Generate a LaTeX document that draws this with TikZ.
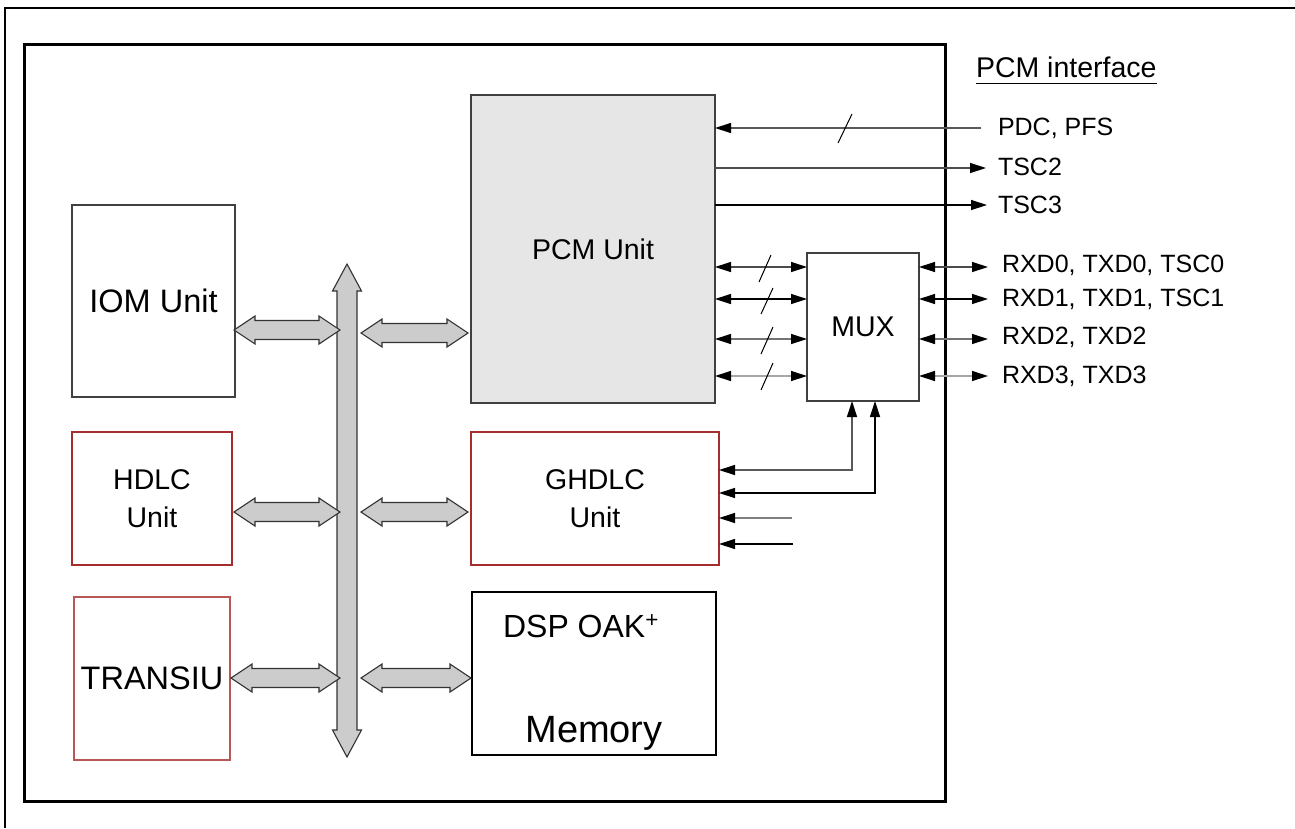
\documentclass[tikz,border=0pt]{standalone}
\usepackage{fontspec}
\setmainfont{Liberation Sans}
\usetikzlibrary{arrows.meta,calc}
\definecolor{boxred}{RGB}{165,45,45}
\definecolor{pcmfill}{RGB}{230,230,230}
\definecolor{busfill}{RGB}{204,204,204}
\newcommand\lblfont{\fontsize{25}{28}\selectfont}
\newcommand\boxfont{\fontsize{28.5}{38}\selectfont}
\newcommand\bigboxfont{\fontsize{32.5}{38}\selectfont}
\newcommand\harrow[3]{\draw[barrow] (#1,#3) -- ({#1+21},{#3-14}) -- ({#1+21},{#3-9.5}) -- ({#2-21},{#3-9.5}) -- ({#2-21},{#3-14}) -- (#2,#3) -- ({#2-21},{#3+14}) -- ({#2-21},{#3+9.5}) -- ({#1+21},{#3+9.5}) -- ({#1+21},{#3+14}) -- cycle;}
\begin{document}
\begin{tikzpicture}[x=1pt,y=-1pt,
  unitbox/.style={draw=#1,line width=1.2pt,inner sep=0pt,outer sep=0pt,align=center,font=\boxfont},
  unitbox/.default={black!75},
  lbl/.style={anchor=west,inner sep=0pt,outer sep=0pt,font=\lblfont,text height=0.72em,text depth=0pt},
  barrow/.style={draw=black!80,fill=busfill,line width=1.1pt,line join=miter},
  tip/.style={-{Triangle[length=16pt,width=10pt,color=black]}},
  tips/.style={{Triangle[length=16pt,width=10pt,color=black]}-{Triangle[length=16pt,width=10pt,color=black]}},
  sig/.style={line width=1.3pt},
  slash/.style={line width=1pt,black}]
\useasboundingbox (0,0) rectangle (1295,828);
% outer frame (top and left edges)
\draw[line width=1.5pt] (5,828) -- (5,8) -- (1295,8);
% inner frame
\draw[line width=3pt] (24,44) rectangle (945,801);

% boxes
\node[unitbox,fill=pcmfill,minimum width=244pt,minimum height=308pt] (pcm) at (593,249) {PCM Unit};
\node[unitbox,font=\bigboxfont,minimum width=163pt,minimum height=192pt] (iom) at (153.5,301) {IOM Unit};
\node[unitbox=boxred,minimum width=160pt,minimum height=133pt] (hdlc) at (152,498.5) {HDLC\\Unit};
\node[unitbox=boxred!80,font=\bigboxfont,minimum width=156pt,minimum height=163pt] (transiu) at (152,678.5) {TRANSIU};
\node[unitbox=boxred,minimum width=248pt,minimum height=133pt] (ghdlc) at (595,498.5) {GHDLC\\Unit};
\node[unitbox=black,line width=2.5pt,minimum width=244pt,minimum height=163pt] (dsp) at (594,673.5) {};
\node[font=\fontsize{32}{34}\selectfont,anchor=base,inner sep=0pt] (dsptext) at (581,637) {DSP OAK\textsuperscript{+}};
\node[font=\fontsize{38}{40}\selectfont,anchor=base,inner sep=0pt] (memtext) at (594,742) {Memory};
\node[unitbox,minimum width=112pt,minimum height=148pt] (mux) at (863,327) {MUX};

% bus
\draw[barrow] (347,264) -- (361.5,291) -- (357,291) -- (357,730) -- (361.5,730) -- (347,757)
  -- (332.5,730) -- (337,730) -- (337,291) -- (332.5,291) -- cycle;
\harrow{234}{340}{330}
\harrow{361}{468}{333}
\harrow{234}{340}{512}
\harrow{361}{468}{512}
\harrow{231}{340}{678}
\harrow{361}{471}{678}

% PCM interface labels
\node[lbl,font=\fontsize{28.5}{30}\selectfont] (pcmif) at (976,74) {PCM interface};
\draw[line width=1.6pt] ($(pcmif.base west)+(0,6)$) -- ($(pcmif.base east)+(0,6)$);
\node[lbl] (pdc) at (998,132) {PDC, PFS};
\node[lbl] (tsc2) at (998,172) {TSC2};
\node[lbl] (tsc3) at (998,210) {TSC3};
\node[lbl] (rx0) at (1002,269) {RXD0, TXD0, TSC0};
\node[lbl] (rx1) at (1002,303) {RXD1, TXD1, TSC1};
\node[lbl] (rx2) at (1002,341) {RXD2, TXD2};
\node[lbl] (rx3) at (1002,380) {RXD3, TXD3};

\draw[sig,tip,black!65] (981,128) coordinate (pdcend) -- (pcm.east |- pdcend);
\draw[slash] (838,143) -- (852,114);
\draw[sig,tip,black!70] (pcm.east |- 0,168) -- (986,168) coordinate (tsc2end);
\draw[sig,tip,black] (pcm.east |- 0,205) -- (987,205) coordinate (tsc3end);

% PCM <-> MUX
\draw[sig,tips,black!70] (pcm.east |- 0,267) -- (mux.west |- 0,267);
\draw[sig,tips,black] (pcm.east |- 0,299) -- (mux.west |- 0,299);
\draw[sig,tips,black!55] (pcm.east |- 0,339) -- (mux.west |- 0,339);
\draw[sig,tips,black!35] (pcm.east |- 0,376) -- (mux.west |- 0,376);
\draw[slash] (759,282) -- (771,255);
\draw[slash] (761,314) -- (773,288);
\draw[slash] (761,354) -- (773,327);
\draw[slash] (761,390) -- (773,363);

% MUX <-> pins
\draw[sig,tips,black!70] (mux.east |- 0,267) -- (988,267);
\draw[sig,tips,black] (mux.east |- 0,299) -- (988,299);
\draw[sig,tips,black!55] (mux.east |- 0,339) -- (988,339);
\draw[sig,tips,black!35] (mux.east |- 0,376) -- (988,376);

% GHDLC inputs
\draw[sig,tips,black!65] (ghdlc.east |- 0,470) -| ([xshift=-11pt]mux.south);
\draw[sig,tips,black] (ghdlc.east |- 0,493) -| ([xshift=12pt]mux.south);
\coordinate (g3) at (792,518);
\coordinate (g4) at (793,544);
\draw[sig,tip,black!50] (g3) -- (ghdlc.east |- g3);
\draw[sig,tip,black] (g4) -- (ghdlc.east |- g4);
\end{tikzpicture}
\end{document}
